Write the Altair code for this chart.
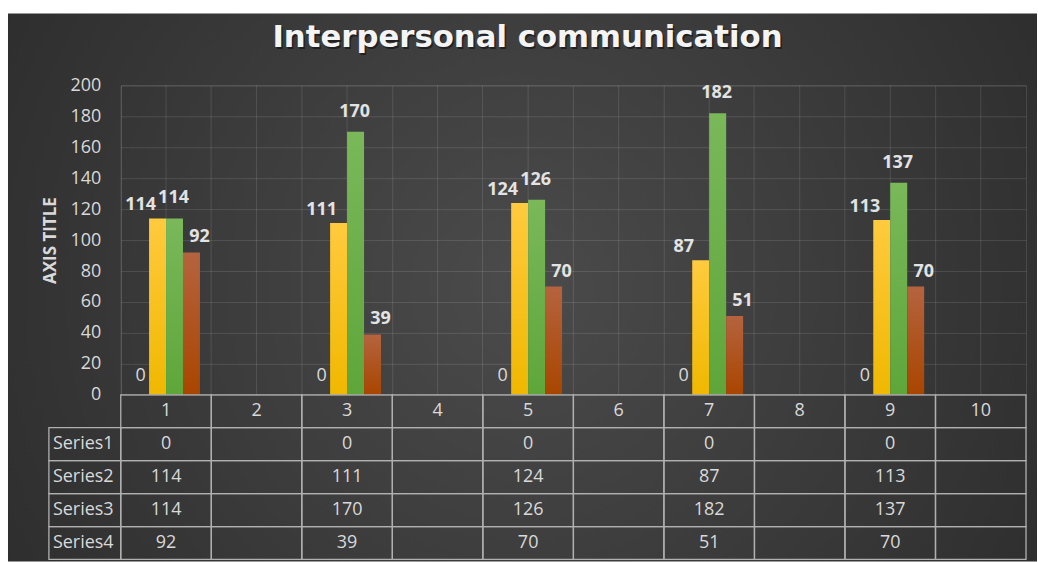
import altair as alt
import pandas as pd

# ---------------- data ----------------
title_text = "Interpersonal communication"
axis_title = "AXIS TITLE"
categories = [1, 2, 3, 4, 5, 6, 7, 8, 9, 10]
data_categories = [1, 3, 5, 7, 9]
series_names = ["Series1", "Series2", "Series3", "Series4"]
series1 = [0, 0, 0, 0, 0]
series2 = [114, 111, 124, 87, 113]
series3 = [114, 170, 126, 182, 137]
series4 = [92, 39, 70, 51, 70]
y_ticks = [0, 20, 40, 60, 80, 100, 120, 140, 160, 180, 200]

series_values = {"Series1": series1, "Series2": series2,
                 "Series3": series3, "Series4": series4}

long_rows = []
for s in series_names:
    for c, v in zip(data_categories, series_values[s]):
        long_rows.append({"cat": c, "series": s, "value": v})
df = pd.DataFrame(long_rows)

row_names = ["hdr"] + series_names
table_rows = []
for r in row_names:
    for c in categories:
        if r == "hdr":
            txt = str(c)
        elif c in data_categories:
            txt = str(series_values[r][data_categories.index(c)])
        else:
            txt = ""
        table_rows.append({"row": r, "cat": c, "text": txt})
table_df = pd.DataFrame(table_rows)
label_df = pd.DataFrame({"row": series_names})
cat_df = pd.DataFrame({"cat": categories})

# ---------------- style ----------------
FONT = "Open Sans"
TITLE_FONT = "DejaVu Sans"
TXT = "#d9d9d9"
LBL = "#e3e3e3"
GRID = "rgba(255,255,255,0.12)"
BORDER = "#b0b0b0"
W_LABEL, W_PLOT, H_PLOT, H_TABLE = 72, 907, 310, 165

bg_gradient = alt.RadialGradient(
    gradient="radial",
    stops=[alt.GradientStop(offset=0, color="#4b4b4b"),
           alt.GradientStop(offset=1, color="#252525")],
    x1=0.5, y1=0.5, r1=0, x2=0.5, y2=0.5, r2=0.75,
)


def vgrad(top, bottom):
    return alt.LinearGradient(
        gradient="linear",
        stops=[alt.GradientStop(offset=0, color=top),
               alt.GradientStop(offset=1, color=bottom)],
        x1=0, x2=0, y1=0, y2=1,
    )


bar_fill = {
    "Series2": vgrad("#ffca3e", "#f0b800"),
    "Series3": vgrad("#7ab85a", "#5ea63a"),
    "Series4": vgrad("#b5633f", "#a94500"),
}
label_style = {  # dx, dy, weight
    "Series1": (0, -14, "normal"),
    "Series2": (-17, -8, "bold"),
    "Series3": (-1, -15, "bold"),
    "Series4": (8, -10, "bold"),
}

# ---------------- encodings ----------------
x_enc = alt.X(
    "cat:O",
    scale=alt.Scale(domain=categories, paddingInner=0, paddingOuter=0),
    axis=alt.Axis(grid=True, bandPosition=0, labels=False, ticks=False,
                  domain=False, title=None, gridColor=GRID, gridWidth=1),
)
xoff = alt.XOffset("series:N",
                   scale=alt.Scale(domain=series_names, paddingInner=0,
                                   paddingOuter=0.668))
y_enc = alt.Y(
    "value:Q",
    scale=alt.Scale(domain=[0, 200], nice=False),
    axis=alt.Axis(values=y_ticks, grid=True, gridColor=GRID, gridWidth=1,
                  domain=False, ticks=False, labelPadding=20, labelFont=FONT,
                  labelFontSize=18, labelColor=TXT, title=axis_title,
                  titleFont=FONT, titleFontSize=17, titleFontWeight="bold",
                  titleColor=TXT, titlePadding=11),
)

# ---------------- spacer (with chart background) ----------------
spacer = alt.Chart(pd.DataFrame({"a": [0]})).mark_rect(
    fill=bg_gradient, strokeWidth=0
).encode(
    x=alt.value(-41), x2=alt.value(990), y=alt.value(-72), y2=alt.value(477)
).properties(width=W_LABEL, height=H_PLOT)

# ---------------- bar chart ----------------
center_rules = alt.Chart(cat_df).mark_rule(color=GRID, strokeWidth=1).encode(x=x_enc)

layers = [center_rules]
for s in ["Series2", "Series3", "Series4"]:
    layers.append(
        alt.Chart(df).transform_filter(alt.datum.series == s)
        .mark_bar(fill=bar_fill[s])
        .encode(x=x_enc, xOffset=xoff, y=y_enc)
    )
for s in series_names:
    dx, dy, w = label_style[s]
    layers.append(
        alt.Chart(df).transform_filter(alt.datum.series == s)
        .mark_text(dx=dx, dy=dy, baseline="alphabetic", font=FONT,
                   fontSize=18, fontWeight=w,
                   color=TXT if w == "normal" else LBL)
        .encode(x=x_enc, xOffset=xoff, y=y_enc, text="value:Q")
    )

title_df = pd.DataFrame({"t": [title_text]})
title_shadow = alt.Chart(title_df).mark_text(
    font=TITLE_FONT, fontSize=30.8, fontWeight="bold", color="#000000",
    opacity=0.45, baseline="alphabetic", align="center", dx=1.5, dy=1.5
).encode(x=alt.value(407.5), y=alt.value(-38), text="t:N")
title_mark = alt.Chart(title_df).mark_text(
    font=TITLE_FONT, fontSize=30.8, fontWeight="bold", color="#f4f4f4",
    baseline="alphabetic", align="center"
).encode(x=alt.value(407.5), y=alt.value(-38), text="t:N")
layers += [title_shadow, title_mark]

bars = alt.layer(*layers).properties(
    width=W_PLOT, height=H_PLOT,
    view=alt.ViewBackground(stroke=GRID, strokeWidth=1),
)

# ---------------- data table ----------------
table_x = alt.X("cat:O", scale=alt.Scale(domain=categories, paddingInner=0,
                                         paddingOuter=0), axis=None)
table_y = alt.Y("row:N", scale=alt.Scale(domain=row_names, paddingInner=0,
                                         paddingOuter=0), axis=None)
cells = alt.Chart(table_df).mark_rect(
    fillOpacity=0, stroke=BORDER, strokeWidth=1.3
).encode(x=table_x, y=table_y)
cell_text = alt.Chart(table_df).mark_text(
    font=FONT, fontSize=18, color=TXT
).encode(x=table_x, y=table_y, text="text:N")
table = alt.layer(cells, cell_text).properties(width=W_PLOT, height=H_TABLE)

lab_cells = alt.Chart(label_df).mark_rect(
    fillOpacity=0, stroke=BORDER, strokeWidth=1.3
).encode(x=alt.value(0), x2=alt.value(W_LABEL), y=table_y)
lab_text = alt.Chart(label_df).mark_text(
    font=FONT, fontSize=18, color=TXT, align="left", dx=4
).encode(x=alt.value(0), y=table_y, text="row:N")
labels = alt.layer(lab_cells, lab_text).properties(width=W_LABEL, height=H_TABLE)

chart = alt.concat(
    spacer, bars, labels, table, columns=2, spacing=0, bounds="flush"
).properties(
    padding={"left": 7, "top": 12, "right": 0, "bottom": 1},
    background="white",
).configure_view(stroke="transparent")

chart.save("out.html", embed_options={"renderer": "svg", "actions": False})
